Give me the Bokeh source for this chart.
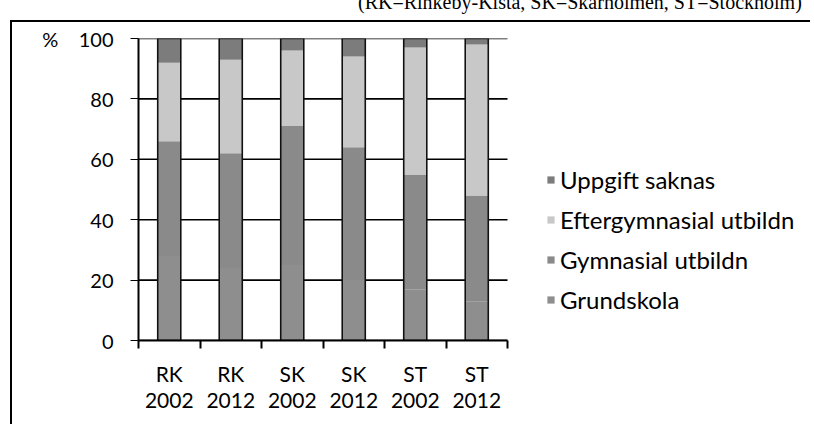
from bokeh.plotting import figure
from bokeh.models import (ColumnDataSource, FixedTicker, Legend, LegendItem,
                          Range1d, Div)
from bokeh.layouts import column
from bokeh.embed import file_html
from bokeh.resources import INLINE

# ---- data (percent) ----
regions = ["RK", "RK", "SK", "SK", "ST", "ST"]
years = ["2002", "2012", "2002", "2012", "2002", "2012"]
grundskola = [28, 24, 25, 20, 17, 13]
gymnasial = [38, 38, 46, 44, 38, 35]
eftergymnasial = [26, 31, 25, 30, 42, 50]
uppgift_saknas = [8, 7, 4, 6, 3, 2]
series_names = ["Grundskola", "Gymnasial utbildn", "Eftergymnasial utbildn", "Uppgift saknas"]
y_ticks = [0, 20, 40, 60, 80, 100]
y_unit = "%"
note = "(RK=Rinkeby-Kista, SK=Skärholmen, ST=Stockholm)"

FONT = "Lato"
YFS = "20px"
XFS = "21px"
LFS = "24px"

# layout sizes (pixels)
W, H = 800, 404
LEFT, TOP, BOTTOM = 126, 16, 86
BARS_W = 369                      # width of the bar area
FRAME_W = W - LEFT                # frame extends to the right edge (legend lives there)

n = len(regions)
xc = [i + 0.5 for i in range(n)]
bounds = [float(i) for i in range(n + 1)]
totals = [a + b + c + d for a, b, c, d in zip(grundskola, gymnasial, eftergymnasial, uppgift_saknas)]

src = ColumnDataSource(dict(x=xc, g=grundskola, y=gymnasial, e=eftergymnasial,
                            u=uppgift_saknas, tot=totals))
grid_src = ColumnDataSource(dict(x0=[0] * len(y_ticks), x1=[n] * len(y_ticks), y=y_ticks))

p = figure(width=W, height=H, output_backend="svg", toolbar_location=None,
           x_range=Range1d(0, n * FRAME_W / BARS_W), y_range=Range1d(0, 100),
           min_border_left=LEFT, min_border_right=0, min_border_top=TOP,
           min_border_bottom=BOTTOM)
p.outline_line_color = None
p.background_fill_color = "white"
p.border_fill_color = "white"
p.styles = {"margin-left": "10px", "border-left": "2px solid black",
            "border-top": "2px solid black"}

# horizontal grid lines, only across the bar area
p.segment(x0="x0", x1="x1", y0="y", y1="y", source=grid_src,
          line_color="black", line_width=1.6, level="underlay")

colors = ["#8e8e8e", "#8a8a8a", "#c8c8c8", "#7c7c7c"]
rs = p.vbar_stack(["g", "y", "e", "u"], x="x", width=0.375, source=src,
                  color=colors, line_color=None)
p.vbar(x="x", top="tot", width=0.375, source=src, fill_color=None,
       line_color="#111111", line_width=1.6)

p.xgrid.grid_line_color = None
p.ygrid.grid_line_color = None

# y axis
p.yaxis.ticker = FixedTicker(ticks=y_ticks)
p.yaxis.major_label_overrides = {y_ticks[-1]: y_unit + "\u00a0" * 4 + str(y_ticks[-1])}
p.yaxis.axis_line_color = "black"
p.yaxis.axis_line_width = 2
p.yaxis.major_tick_out = 8
p.yaxis.major_tick_in = 0
p.yaxis.major_tick_line_width = 1
p.yaxis.minor_tick_line_color = None
p.yaxis.major_label_standoff = 17
p.yaxis.major_label_text_font = FONT
p.yaxis.major_label_text_font_size = YFS
p.yaxis.major_label_text_color = "black"

# x axis
p.xaxis.bounds = (0, n)
p.xaxis.ticker = FixedTicker(ticks=xc, minor_ticks=bounds)
p.xaxis.major_label_overrides = {xc[i]: f"{regions[i]}\n{years[i]}" for i in range(n)}
p.xaxis.axis_line_color = "black"
p.xaxis.axis_line_width = 2
p.xaxis.major_tick_line_color = None
p.xaxis.major_tick_out = 0
p.xaxis.major_tick_in = 0
p.xaxis.minor_tick_line_color = "black"
p.xaxis.minor_tick_line_width = 2
p.xaxis.minor_tick_out = 8
p.xaxis.minor_tick_in = 0
p.xaxis.major_label_standoff = 12
p.xaxis.major_label_text_font = FONT
p.xaxis.major_label_text_font_size = XFS
p.xaxis.major_label_text_color = "black"
p.xaxis.major_label_text_line_height = 1.07

# legend (reverse order, top = last series)
items = [LegendItem(label=series_names[i], renderers=[rs[i]]) for i in range(3, -1, -1)]
leg = Legend(items=items, location=(408, 26), orientation="vertical",
             glyph_width=9, glyph_height=9, label_height=28, spacing=11,
             label_standoff=5, padding=0, margin=0,
             label_text_font=FONT, label_text_font_size=LFS, label_text_color="black",
             border_line_color=None, background_fill_alpha=0)
p.add_layout(leg, "center")

caption = Div(
    text=("<div style=\"position:relative;width:814px;height:20px;overflow:hidden;\">"
          "<div style=\"position:absolute;left:358px;top:-8px;white-space:nowrap;"
          "font-family:'Liberation Serif';font-size:20px;line-height:20px;color:black;\">"
          + note + "</div></div>"),
    width=814, height=20, styles={"overflow": "hidden", "margin": "0"})

layout = column(caption, p, spacing=0)
open("out.html", "w").write(file_html(layout, INLINE))
